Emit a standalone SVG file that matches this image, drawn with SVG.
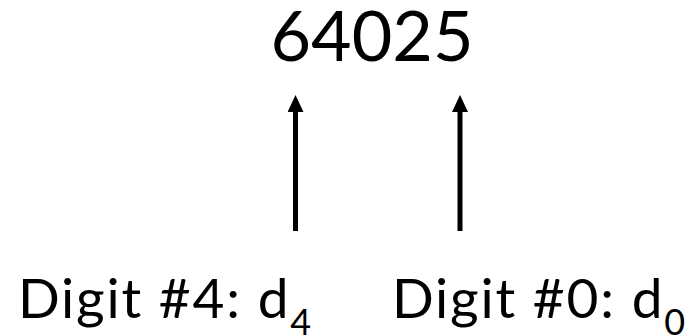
<svg xmlns="http://www.w3.org/2000/svg" width="692" height="336" viewBox="0 0 692 336">
  <style>
    text { font-family: Lato, "Open Sans", sans-serif; fill: #000; }
    .num { font-size: 70px; }
    .lbl { font-size: 55px; letter-spacing: 1.8px; }
    .sub { font-size: 36px; letter-spacing: 0; }
    .arrow { stroke: #000; stroke-width: 5; fill: none; }
  </style>
  <defs>
    <!-- arrowhead drawn along +x, base at the line end -->
    <marker id="head" markerUnits="userSpaceOnUse" viewBox="0 0 17 16" refX="0" refY="8" markerWidth="17" markerHeight="16" orient="auto">
      <path d="M0,0 L17,8 L0,16 Z" fill="#000"/>
    </marker>
  </defs>

  <g id="number">
    <text class="num" x="372" y="61" text-anchor="middle">64025</text>
  </g>

  <g id="connectors">
    <path class="arrow" d="M295.5,231 V112" marker-end="url(#head)"/>
    <path class="arrow" d="M460,231 V112" marker-end="url(#head)"/>
  </g>

  <g id="digit4">
    <text class="lbl" x="18" y="318">Digit #4: d<tspan class="sub" dy="17">4</tspan></text>
  </g>

  <g id="digit0">
    <text class="lbl" x="392" y="318">Digit #0: d<tspan class="sub" dy="17">0</tspan></text>
  </g>
</svg>
